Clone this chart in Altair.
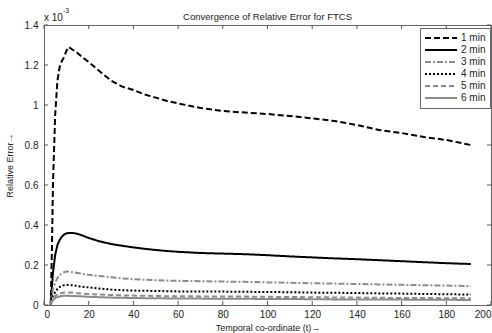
import altair as alt
import pandas as pd

t = [3, 3.5, 4, 5, 6, 7, 8, 9, 10, 11, 13, 15, 17, 20, 25, 30, 35, 40, 45, 50, 55,
     60, 70, 80, 90, 100, 110, 120, 130, 140, 150, 160, 170, 180, 191]

err_1min = [0.0, 0.25, 0.6, 0.95, 1.12, 1.19, 1.22, 1.24, 1.27, 1.29, 1.275, 1.26, 1.24,
            1.215, 1.167, 1.122, 1.092, 1.075, 1.053, 1.037, 1.02, 1.008, 0.985, 0.97,
            0.962, 0.955, 0.945, 0.933, 0.92, 0.9, 0.875, 0.86, 0.84, 0.825, 0.80]
err_2min = [0.0, 0.08, 0.16, 0.25, 0.3, 0.325, 0.342, 0.352, 0.358, 0.36, 0.36, 0.356,
            0.348, 0.335, 0.318, 0.305, 0.296, 0.288, 0.281, 0.275, 0.27, 0.266, 0.26,
            0.257, 0.254, 0.249, 0.243, 0.238, 0.233, 0.229, 0.224, 0.219, 0.214, 0.209, 0.205]
err_3min = [0.0, 0.05, 0.08, 0.11, 0.135, 0.15, 0.158, 0.164, 0.167, 0.167, 0.164, 0.16,
            0.156, 0.151, 0.145, 0.139, 0.133, 0.129, 0.126, 0.124, 0.122, 0.121, 0.119,
            0.117, 0.116, 0.113, 0.111, 0.109, 0.107, 0.105, 0.103, 0.101, 0.099, 0.097, 0.095]
err_4min = [0.0, 0.03, 0.045, 0.065, 0.08, 0.09, 0.096, 0.099, 0.1, 0.1, 0.098, 0.095,
            0.092, 0.088, 0.082, 0.077, 0.074, 0.072, 0.071, 0.07, 0.069, 0.068, 0.067,
            0.067, 0.066, 0.065, 0.064, 0.062, 0.061, 0.06, 0.058, 0.057, 0.055, 0.054, 0.052]
err_5min = [0.0, 0.02, 0.032, 0.045, 0.053, 0.058, 0.06, 0.062, 0.062, 0.062, 0.061, 0.059,
            0.057, 0.055, 0.052, 0.05, 0.048, 0.047, 0.046, 0.045, 0.044, 0.044, 0.043,
            0.042, 0.042, 0.041, 0.04, 0.039, 0.038, 0.037, 0.036, 0.035, 0.035, 0.034, 0.033]
err_6min = [0.0, 0.015, 0.025, 0.035, 0.04, 0.043, 0.045, 0.046, 0.046, 0.046, 0.045, 0.044,
            0.043, 0.041, 0.039, 0.037, 0.036, 0.035, 0.034, 0.034, 0.033, 0.033, 0.032,
            0.031, 0.031, 0.03, 0.03, 0.029, 0.028, 0.028, 0.027, 0.027, 0.026, 0.026, 0.025]

series_names = ["1 min", "2 min", "3 min", "4 min", "5 min", "6 min"]
series_colors = ["#000000", "#000000", "#8a8a8a", "#000000", "#8a8a8a", "#8a8a8a"]
series_dashes = [[6, 3], [1, 0], [6, 2, 2, 2], [2, 2], [5, 3], [1, 0]]

x_ticks = [0, 20, 40, 60, 80, 100, 120, 140, 160, 180, 200]
y_ticks = [0, 0.2, 0.4, 0.6, 0.8, 1.0, 1.2, 1.4]

title_text = "Convergence of Relative Error for FTCS"
x_title = "Temporal co-ordinate (t)→"
y_title = "Relative Error→"

rows = []
for name, vals in zip(series_names,
                      [err_1min, err_2min, err_3min, err_4min, err_5min, err_6min]):
    for tt, v in zip(t, vals):
        rows.append({"t": tt, "err": v, "series": name})
df = pd.DataFrame(rows)

W, H = 447, 280
FONT = "Liberation Sans"

xscale = alt.Scale(domain=[0, 200], nice=False)
yscale = alt.Scale(domain=[0, 1.4], nice=False)

xaxis = alt.Axis(values=x_ticks, ticks=False, domain=False, grid=False,
                 labelOverlap=False, labelFontSize=10, labelPadding=4,
                 labelColor="#222", title=x_title, titleFontSize=9,
                 titleFontWeight="normal", titlePadding=4, titleColor="#222",
                 labelFont=FONT, titleFont=FONT)
yaxis = alt.Axis(values=y_ticks, ticks=False, domain=False, grid=False,
                 labelOverlap=False, format="~g", labelFontSize=10,
                 labelPadding=6, labelColor="#222", title=y_title,
                 titleFontSize=9, titleFontWeight="normal", titlePadding=10,
                 titleColor="#222", labelFont=FONT, titleFont=FONT)

legend_kw = dict(title=None, orient="none", legendX=376, legendY=3,
                 symbolType="stroke", symbolSize=1024, symbolStrokeWidth=2,
                 clipHeight=12, rowPadding=0, labelFontSize=10, labelFont=FONT,
                 labelColor="#222", padding=4, fillColor="white",
                 strokeColor="#666", labelOffset=3)

lines = alt.Chart(df).mark_line(strokeWidth=2, clip=True).encode(
    x=alt.X("t:Q", scale=xscale, axis=xaxis, title=x_title),
    y=alt.Y("err:Q", scale=yscale, axis=yaxis, title=y_title),
    color=alt.Color("series:N", scale=alt.Scale(domain=series_names, range=series_colors),
                    legend=alt.Legend(**legend_kw)),
    strokeDash=alt.StrokeDash("series:N",
                              scale=alt.Scale(domain=series_names, range=series_dashes),
                              legend=alt.Legend(**legend_kw)),
)

xt = pd.DataFrame({"t": x_ticks})
yt = pd.DataFrame({"err": y_ticks})
tick_color = "#555"
bx = alt.Chart(xt).mark_rule(color=tick_color).encode(
    x=alt.X("t:Q", scale=xscale, axis=xaxis, title=x_title),
    y=alt.value(H), y2=alt.value(H - 4))
tx = alt.Chart(xt).mark_rule(color=tick_color).encode(
    x=alt.X("t:Q", scale=xscale, axis=xaxis, title=x_title),
    y=alt.value(0), y2=alt.value(4))
ly = alt.Chart(yt).mark_rule(color=tick_color).encode(
    y=alt.Y("err:Q", scale=yscale, axis=yaxis, title=y_title),
    x=alt.value(0), x2=alt.value(4))
ry = alt.Chart(yt).mark_rule(color=tick_color).encode(
    y=alt.Y("err:Q", scale=yscale, axis=yaxis, title=y_title),
    x=alt.value(W), x2=alt.value(W - 4))

ann = pd.DataFrame({"a": [0]})
mult = alt.Chart(ann).mark_text(align="left", baseline="middle", fontSize=10,
                                font=FONT, color="#222").encode(
    x=alt.value(0), y=alt.value(-7), text=alt.value("x 10"))
expo = alt.Chart(ann).mark_text(align="left", baseline="middle", fontSize=7,
                                font=FONT, color="#222").encode(
    x=alt.value(19), y=alt.value(-14), text=alt.value("-3"))
ttl = alt.Chart(ann).mark_text(align="center", baseline="middle", fontSize=9.5,
                               font=FONT, color="#222").encode(
    x=alt.value(W / 2), y=alt.value(-8), text=alt.value(title_text))

chart = alt.layer(lines, bx, tx, ly, ry, mult, expo, ttl).properties(
    width=W, height=H,
    autosize=alt.AutoSizeParams(type="none"),
    padding={"left": 44, "top": 25, "right": 1, "bottom": 28},
).configure_view(stroke="#666", strokeWidth=1)

chart.save("out.html", embed_options={"renderer": "svg", "actions": False})
